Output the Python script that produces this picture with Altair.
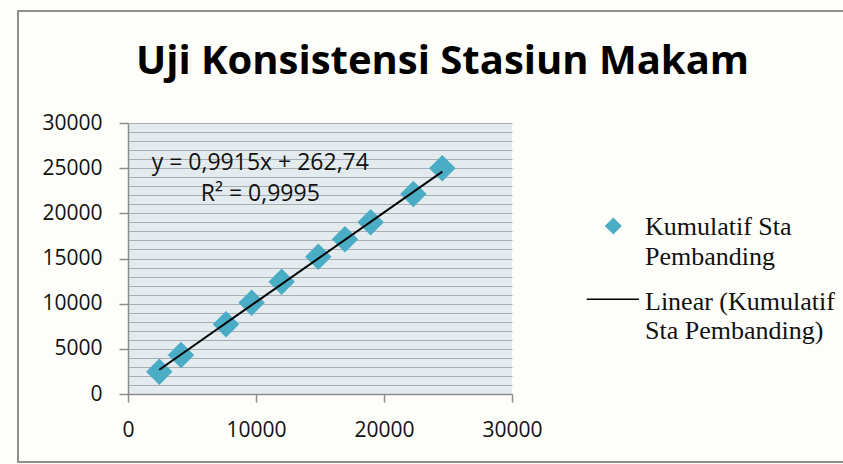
import altair as alt
import pandas as pd

# Cumulative rainfall: comparison stations (x) vs. Makam station (y)
kumulatif_pembanding = [2445, 4140, 7656, 9661, 12005, 14870, 16953, 18958, 22292, 24557]
kumulatif_makam = [2470, 4317, 7716, 10107, 12432, 15200, 17122, 19004, 22140, 24982]

# Linear trendline coefficients as printed on the chart
slope = 0.9915
intercept = 262.74
r_squared = 0.9995

x_ticks = [0, 10000, 20000, 30000]
y_grid = [0, 1000, 2000, 3000, 4000, 5000, 6000, 7000, 8000, 9000, 10000,
          11000, 12000, 13000, 14000, 15000, 16000, 17000, 18000, 19000, 20000,
          21000, 22000, 23000, 24000, 25000, 26000, 27000, 28000, 29000, 30000]

title_text = "Uji Konsistensi Stasiun Makam"
equation_text = "y = 0,9915x + 262,74"
r2_text = "R² = 0,9995"
legend_points = ["Kumulatif Sta", "Pembanding"]
legend_line = ["Linear (Kumulatif", "Sta Pembanding)"]

points = pd.DataFrame({"x": kumulatif_pembanding, "y": kumulatif_makam})
x_min, x_max = min(kumulatif_pembanding), max(kumulatif_pembanding)
trend = pd.DataFrame({
    "x": [x_min, x_max],
    "y": [slope * x_min + intercept, slope * x_max + intercept],
})
one = pd.DataFrame({"k": [0]})

AXIS_GRAY = "#8c8c8c"
LABEL_FONT = "Open Sans"
SERIF = "Liberation Serif"

x_scale = alt.Scale(domain=[0, 30000], nice=False)
y_scale = alt.Scale(domain=[0, 30000], nice=False)

x_axis = alt.Axis(
    values=x_ticks, grid=False, title=None, format="d",
    domainColor=AXIS_GRAY, domainWidth=1.5, tickColor=AXIS_GRAY, tickWidth=1.5,
    tickSize=8, labelPadding=17, labelFont=LABEL_FONT, labelFontSize=21,
    labelColor="#111111", labelOverlap=False, labelFlush=False,
)
y_axis = alt.Axis(
    values=y_grid, grid=True, gridColor="#a9aeb2", gridWidth=1.2, title=None,
    format="d",
    labelExpr="datum.value % 5000 === 0 ? datum.label : ''",
    tickOpacity={"condition": {"test": "datum.value % 5000 === 0", "value": 1}, "value": 0},
    domainColor=AXIS_GRAY, domainWidth=1.5, tickColor=AXIS_GRAY, tickWidth=1.5,
    tickSize=9, labelPadding=17, labelFont=LABEL_FONT, labelFontSize=21,
    labelColor="#111111", labelOverlap=False, labelFlush=False,
)

frame = alt.Chart(one).mark_rect(
    filled=False, stroke="#8f8f8f", strokeWidth=2
).encode(
    x=alt.value(-110), x2=alt.value(730), y=alt.value(-112), y2=alt.value(339)
)

scatter = alt.Chart(points).mark_point(
    shape="diamond", filled=True, size=700, color="#4bacc6", opacity=1
).encode(
    x=alt.X("x:Q", scale=x_scale, axis=x_axis),
    y=alt.Y("y:Q", scale=y_scale, axis=y_axis),
)

trendline = alt.Chart(trend).mark_line(color="black", strokeWidth=2).encode(
    x=alt.X("x:Q", scale=x_scale, axis=x_axis),
    y=alt.Y("y:Q", scale=y_scale, axis=y_axis),
)

title = alt.Chart(one).mark_text(
    font="Open Sans", fontWeight="bold", fontSize=40, align="center",
    baseline="alphabetic", color="#000000",
).encode(x=alt.value(314.5), y=alt.value(-49), text=alt.value(title_text))

eq1 = alt.Chart(one).mark_text(
    font=LABEL_FONT, fontSize=23, align="center", baseline="alphabetic", color="#111111"
).encode(x=alt.value(132.3), y=alt.value(47), text=alt.value(equation_text))

eq2 = alt.Chart(one).mark_text(
    font=LABEL_FONT, fontSize=23, align="center", baseline="alphabetic", color="#111111"
).encode(x=alt.value(132.3), y=alt.value(77.7), text=alt.value(r2_text))

legend_symbol = alt.Chart(one).mark_point(
    shape="diamond", filled=True, size=289, color="#4bacc6", opacity=1
).encode(x=alt.value(485.3), y=alt.value(103))

legend_rule = alt.Chart(one).mark_rule(color="black", strokeWidth=1.5).encode(
    x=alt.value(458.7), x2=alt.value(511), y=alt.value(176.3)
)

legend_texts = []
for txt, yy in zip(legend_points + legend_line, [112, 142, 187, 216]):
    legend_texts.append(
        alt.Chart(one).mark_text(
            font=SERIF, fontSize=26, align="left", baseline="alphabetic", color="#111111"
        ).encode(x=alt.value(517), y=alt.value(yy), text=alt.value(txt))
    )

chart = alt.layer(
    frame, scatter, trendline, title, eq1, eq2, legend_symbol, legend_rule, *legend_texts
).properties(
    width=384, height=271,
    autosize="none",
    padding={"left": 128, "top": 123, "right": 331, "bottom": 70},
    background="#fdfdfa",
).configure_view(
    stroke=None,
    fill="#e3ebef",
)

chart.save("out.html", embed_options={"renderer": "svg", "actions": False})
